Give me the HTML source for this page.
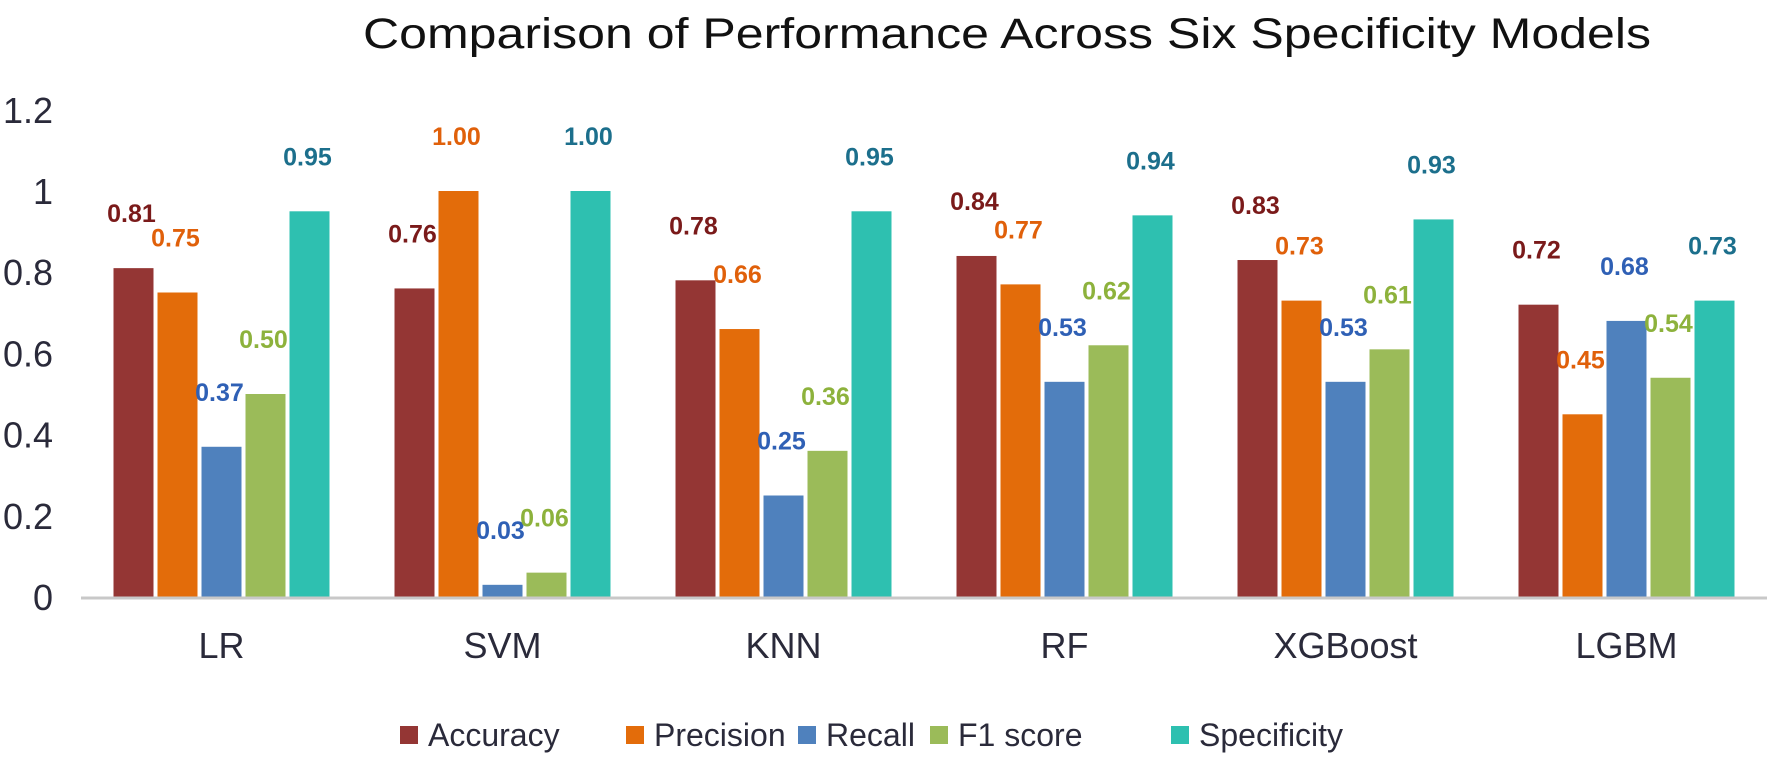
<!DOCTYPE html>
<html><head><meta charset="utf-8">
<style>
html,body{margin:0;padding:0;background:#fff;}
svg{display:block;font-family:"Liberation Sans",sans-serif;}
</style></head>
<body>
<svg id="chart" width="1772" height="763" viewBox="0 0 1772 763" xmlns="http://www.w3.org/2000/svg">
<text x="1007" y="48" font-size="43" text-anchor="middle" fill="#111" textLength="1288" lengthAdjust="spacingAndGlyphs">Comparison of Performance Across Six Specificity Models</text>
<g id="yaxis"></g>
<g id="bars"></g>
<g id="labels"></g>
<g id="xaxis"></g>
<g id="legend"></g>
</svg>
<script>
const categories = ["LR","SVM","KNN","RF","XGBoost","LGBM"];
const seriesNames = ["Accuracy","Precision","Recall","F1 score","Specificity"];
const accuracy = [0.81,0.76,0.78,0.84,0.83,0.72];
const precision = [0.75,1.00,0.66,0.77,0.73,0.45];
const recall = [0.37,0.03,0.25,0.53,0.53,0.68];
const f1score = [0.50,0.06,0.36,0.62,0.61,0.54];
const specificity = [0.95,1.00,0.95,0.94,0.93,0.73];
const yTicks = [0,0.2,0.4,0.6,0.8,1,1.2];
const yTickLabels = ["0","0.2","0.4","0.6","0.8","1","1.2"];

const series = [accuracy,precision,recall,f1score,specificity];
const barColors = ["#943634","#E36C0A","#4F81BD","#9BBB59","#2EC0B0"];
const labelColors = ["#7A1A1A","#E0600A","#2F60B5","#8DB23C","#1C6F8C"];
const NS = "http://www.w3.org/2000/svg";
const x0 = 81, x1 = 1767, y0 = 597, pxPerUnit = 406;
const catW = (x1 - x0) / categories.length;
const barW = 40, barStep = 44;
function yScale(v){ return y0 - v * pxPerUnit; }
function xCenter(i){ return x0 + catW * (i + 0.5); }
function mk(tag, attrs, parent){ const e = document.createElementNS(NS, tag); for (const k in attrs) e.setAttribute(k, attrs[k]); parent.appendChild(e); return e; }

const yaxis = document.getElementById('yaxis');
yTicks.forEach((t, i) => {
  const tx = mk('text', {x: 53, y: yScale(t) + 13, 'font-size': 36, 'text-anchor': 'end', fill: '#2a2a3a'}, yaxis);
  
  
  tx.textContent = yTickLabels[i];
});

const bars = document.getElementById('bars');
const labels = document.getElementById('labels');
categories.forEach((c, i) => {
  series.forEach((s, j) => {
    const cx = xCenter(i) + (j - 2) * barStep;
    const top = yScale(s[i]);
    const r = mk('rect', {x: cx - barW/2, y: top, width: barW, height: y0 - top, fill: barColors[j]}, bars);
    
    
    const t = mk('text', {x: cx - 2, y: top - 46, 'font-size': 25, 'font-weight': 'bold', 'text-anchor': 'middle', fill: labelColors[j]}, labels);
    
    
    t.textContent = s[i].toFixed(2);
  });
});

const xaxis = document.getElementById('xaxis');
const line = mk('line', {x1: x0, y1: y0 + 1, x2: x1, y2: y0 + 1, stroke: '#c8c8c8', 'stroke-width': 3}, xaxis);


categories.forEach((c, i) => {
  const t = mk('text', {x: xCenter(i), y: 658, 'font-size': 36, 'text-anchor': 'middle', fill: '#2a2a3a'}, xaxis);
  
  
  t.textContent = c;
});

const legend = document.getElementById('legend');
const legX = [400, 626, 798, 930, 1171];
seriesNames.forEach((n, j) => {
  const g = mk('g', {}, legend);
  
  
  mk('rect', {x: legX[j], y: 726, width: 18, height: 18, fill: barColors[j]}, g);
  const t = mk('text', {x: legX[j] + 28, y: 746, 'font-size': 32, fill: '#2a2a3a'}, g);
  t.textContent = n;
});
</script>
</body></html>
